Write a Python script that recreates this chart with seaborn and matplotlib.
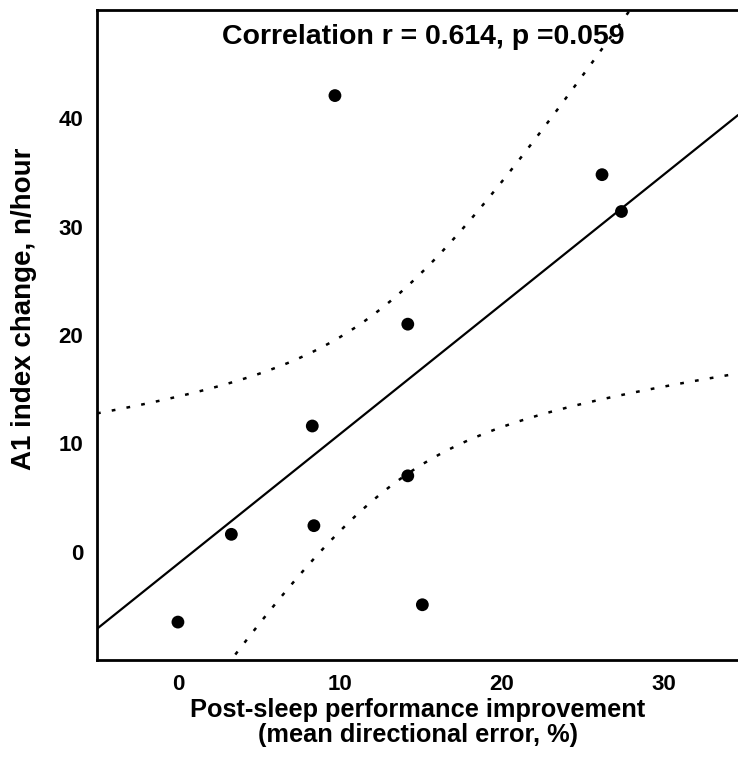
import numpy as np
import pandas as pd
import matplotlib
matplotlib.use("Agg")
import matplotlib.pyplot as plt
import seaborn as sns

# Data
improvement = [0.0, 3.3, 8.4, 8.3, 9.7, 14.2, 14.2, 15.1, 26.2, 27.4]
a1_change = [-6.5, 1.6, 2.4, 11.6, 42.1, 21.0, 7.0, -4.9, 34.8, 31.4]
x_ticks = [0, 10, 20, 30]
y_ticks = [0, 10, 20, 30, 40]
title_text = "Correlation r = 0.614, p =0.059"
x_label = "Post-sleep performance improvement\n(mean directional error, %)"
y_label = "A1 index change, n/hour"

df = pd.DataFrame({"x": improvement, "y": a1_change})

sns.set_theme(style="white")
plt.rcParams["font.family"] = ["Liberation Sans", "DejaVu Sans"]
plt.rcParams["font.weight"] = "bold"

fig = plt.figure(figsize=(7.38, 7.62), dpi=100)
ax = fig.add_axes([97 / 738, 1 - 660 / 762, 1 - 97 / 738, (660 - 10) / 762])
ax.set_xlim(-5, 34.6)
ax.set_ylim(-10, 50)

sns.regplot(data=df, x="x", y="y", ax=ax, ci=None, truncate=False,
            scatter_kws=dict(s=85, color="black", edgecolor="none", alpha=1, zorder=3),
            line_kws=dict(color="black", lw=1.6))

# 90% confidence band of the regression line
xa = np.asarray(improvement, float)
ya = np.asarray(a1_change, float)
n = len(xa)
b1, b0 = np.polyfit(xa, ya, 1)
resid = ya - (b0 + b1 * xa)
s = np.sqrt(np.sum(resid ** 2) / (n - 2))
sxx = np.sum((xa - xa.mean()) ** 2)
t_crit = 1.8595  # t(0.95, df=8)
xg = np.linspace(-5, 34.6, 300)
yg = b0 + b1 * xg
hw = t_crit * s * np.sqrt(1 / n + (xg - xa.mean()) ** 2 / sxx)
band = pd.DataFrame({"x": np.r_[xg, xg], "y": np.r_[yg + hw, yg - hw],
                     "side": ["upper"] * len(xg) + ["lower"] * len(xg)})
for side in ["upper", "lower"]:
    sub = band[band["side"] == side]
    sns.lineplot(data=sub, x="x", y="y", ax=ax, color="black", lw=1.8,
                 dashes=False, sort=False)
for ln in ax.lines[-2:]:
    ln.set_dashes((1.5, 4.5))

ax.set_xlim(-5, 34.6)
ax.set_ylim(-10, 50)
ax.set_xticks(x_ticks)
ax.set_yticks(y_ticks)
ax.tick_params(direction="in", length=3, width=1.5, color="black",
               labelsize=16, pad=10, colors="black")
for lab in ax.get_xticklabels() + ax.get_yticklabels():
    lab.set_fontweight("bold")

for side in ["left", "bottom", "top"]:
    ax.spines[side].set_visible(True)
    ax.spines[side].set_color("black")
    ax.spines[side].set_linewidth(2)
ax.spines["right"].set_visible(False)

ax.text(0.5 + 6 / 641, 0.978, title_text, transform=ax.transAxes, ha="center",
        va="top", fontsize=20.5, fontweight="bold", color="black")
ax.set_xlabel(x_label, fontsize=18.3, fontweight="bold", color="black", labelpad=2,
              linespacing=1.05)
ax.set_ylabel(y_label, fontsize=20, fontweight="bold", color="black")
ax.yaxis.set_label_coords(-0.094, 0.54)

fig.savefig("out.png", dpi=100)
